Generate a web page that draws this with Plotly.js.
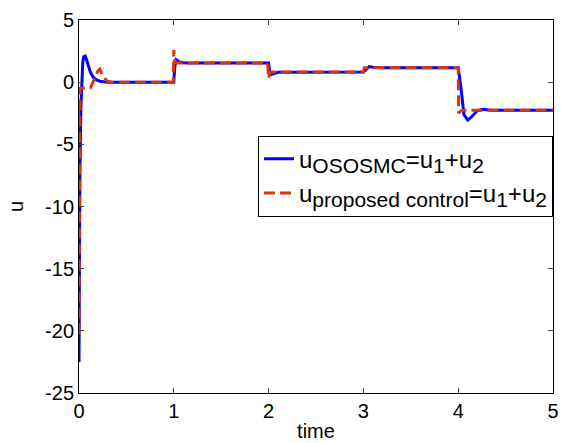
<!DOCTYPE html>
<html>
<head>
<meta charset="utf-8">
<script src="https://cdn.plot.ly/plotly-3.0.1.min.js"></script>
<style>html,body{margin:0;padding:0;background:#fff;}#chart{width:563px;height:443px;}</style>
</head>
<body>
<div id="chart"></div>
<script>
// Series: u_OSOSMC
const tBlue = [0, 0.005, 0.01, 0.02, 0.03, 0.04, 0.05, 0.065, 0.08, 0.1, 0.12, 0.15, 0.18, 0.22, 0.26, 0.3,
  1.0, 1.01, 1.025, 1.04, 1.06, 1.1, 1.15,
  2.0, 2.01, 2.03, 2.06, 2.1,
  3.0, 3.03, 3.06, 3.1, 3.15, 3.2,
  4.0, 4.03, 4.06, 4.1, 4.14, 4.2, 4.26, 4.35, 5];
const uBlue = [-22.5, -14, -7, -2, 0.5, 1.6, 2.05, 2.1, 1.8, 1.3, 0.8, 0.4, 0.2, 0.08, 0.02, 0,
  0, 1.2, 1.8, 1.75, 1.62, 1.56, 1.55,
  1.55, 0.9, 0.62, 0.72, 0.8,
  0.82, 1.05, 1.25, 1.2, 1.15, 1.15,
  1.15, -0.5, -2.6, -3.05, -2.8, -2.3, -2.18, -2.25, -2.25];
// Series: u_proposed control
const tRed = [0, 0.005, 0.01, 0.12, 0.16, 0.2, 0.22, 0.25, 0.3, 0.35,
  0.995, 1.0, 1.01, 1.03,
  1.99, 2.0, 2.01, 2.03,
  3.0, 3.005, 3.01,
  4.0, 4.005, 4.02, 4.05, 5];
const uRed = [-20.3, -3, -0.5, -0.45, 0.3, 0.9, 1.05, 0.5, 0.05, 0,
  0, 2.6, 1.7, 1.55,
  1.55, 0.3, 0.7, 0.82,
  0.82, 1.1, 1.15,
  1.15, -2.5, -2.35, -2.25, -2.25];
const xTicks = [0, 1, 2, 3, 4, 5];
const yTicks = [-25, -20, -15, -10, -5, 0, 5];

const font = {family: '"Liberation Sans", Arial, sans-serif', size: 20, color: '#000'};
const sub = s => '<sub><span style="font-size:21px">' + s + '</span></sub>';

Plotly.newPlot('chart', [
  {x: tBlue, y: uBlue, type: 'scatter', mode: 'lines', name: 'u' + sub('OSOSMC') + '=u' + sub('1') + '+u' + sub('2'),
   line: {color: '#0000ff', width: 3}},
  {x: tRed, y: uRed, type: 'scatter', mode: 'lines', name: 'u' + sub('proposed control') + '=u' + sub('1') + '+u' + sub('2'),
   line: {color: '#d9360f', width: 3, dash: '11px,5px'}}
], {
  width: 563, height: 443,
  margin: {l: 79, r: 10, t: 20, b: 50},
  paper_bgcolor: '#fff', plot_bgcolor: '#fff',
  font: font,
  showlegend: true,
  legend: {x: 1, y: 0.69, xanchor: 'right', yanchor: 'top', bordercolor: '#000', borderwidth: 1,
    bgcolor: '#fff', font: {family: font.family, size: 24, color: '#000'}, tracegroupgap: 0},
  xaxis: {range: [0, 5], tickvals: xTicks, ticktext: xTicks.map(String), ticks: 'inside', ticklen: 5,
    showline: true, mirror: 'ticks', linecolor: '#000', linewidth: 1, showgrid: false, zeroline: false,
    title: {text: 'time', font: font, standoff: 2}, tickfont: font},
  yaxis: {range: [-25, 5], tickvals: yTicks, ticktext: yTicks.map(String), ticks: 'inside', ticklen: 5,
    showline: true, mirror: 'ticks', linecolor: '#000', linewidth: 1, showgrid: false, zeroline: false,
    title: {text: 'u', font: font, standoff: 16}, tickfont: font}
}, {displayModeBar: false, staticPlot: true});
</script>
</body>
</html>
